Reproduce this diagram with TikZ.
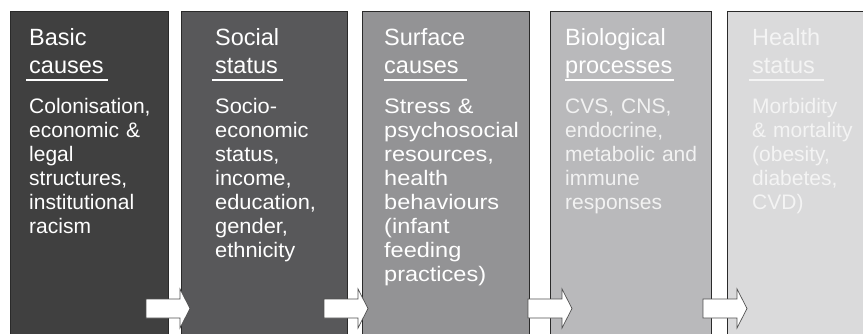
\documentclass[tikz,border=0pt]{standalone}
\usepackage{fontspec}
\setmainfont{Liberation Sans}
\newfontfamily\widerA[FakeStretch=1.04]{Liberation Sans}
\newfontfamily\widerB[FakeStretch=1.12]{Liberation Sans}
\definecolor{fillA}{HTML}{404040}
\definecolor{fillB}{HTML}{58585A}
\definecolor{fillC}{HTML}{939395}
\definecolor{fillD}{HTML}{B9B9BB}
\definecolor{fillE}{HTML}{DADADB}
\definecolor{edgecol}{HTML}{2A2A2A}
\definecolor{arrowedge}{HTML}{505050}
\definecolor{txtD}{HTML}{F2F2F2}
\definecolor{txtE}{HTML}{F4F4F4}
\begin{document}
\begin{tikzpicture}[x=1pt,y=-1pt,
  colbox/.style={draw=edgecol, line width=0.8pt, anchor=north west, inner sep=0pt, minimum height=326pt},
  titletxt/.style={anchor=base west, inner sep=0pt, text width=140pt, align=left,
    font=\fontsize{23.5}{28}\selectfont, text=white},
  bodytxt/.style={anchor=base west, inner sep=0pt, text width=150pt, align=left,
    font=\fontsize{21}{24}\selectfont, text=white},
  uline/.style={draw=white, line width=1.3pt},
  blockarrow/.style={draw=arrowedge, fill=white, line width=0.7pt, line join=miter}
]
\useasboundingbox (0,0) rectangle (863,333);
\fill[white] (0,0) rectangle (863,333);

% columns
\node[colbox, fill=fillA, minimum width=158pt] (c1) at (10,11) {};
\node[colbox, fill=fillB, minimum width=166pt] (c2) at (181,11) {};
\node[colbox, fill=fillC, minimum width=167pt] (c3) at (362,11) {};
\node[colbox, fill=fillD, minimum width=161pt] (c4) at (550,11) {};
\node[colbox, fill=fillE, minimum width=145pt] (c5) at (727,11) {};

% titles
\node[titletxt] (t1) at (29,45) {Basic\\causes};
\node[titletxt] (t2) at (215,45) {Social\\status};
\node[titletxt] (t3) at (384,45) {Surface\\causes};
\node[titletxt] (t4) at (565,45) {Biological\\processes};
\node[titletxt, text=txtE] (t5) at (752,45) {Health\\status};

% underlines
\draw[uline] (26,80) -- (108,80);
\draw[uline] (212,80) -- (283,80);
\draw[uline] (384,80) -- (467,80);
\draw[uline] (565,80) -- (674,80);
\draw[uline, draw=txtE] (749,80) -- (824,80);

% bodies
\node[bodytxt] (b1) at (29,113) {Colonisation,\\economic \&\\legal\\structures,\\institutional\\racism};
\node[bodytxt, font=\fontsize{21}{24}\widerA] (b2) at (215,113) {Socio-\\economic\\status,\\income,\\education,\\gender,\\ethnicity};
\node[bodytxt, font=\fontsize{21}{24}\widerB] (b3) at (384,113) {Stress \&\\psychosocial\\resources,\\health\\behaviours\\(infant\\feeding\\practices)};
\node[bodytxt, text=txtD] (b4) at (565,113) {CVS, CNS,\\endocrine,\\metabolic and\\immune\\responses};
\node[bodytxt, text=txtE] (b5) at (752,113) {Morbidity\\\& mortality\\(obesity,\\diabetes,\\CVD)};

% block arrows between columns
\foreach \s/\n in {146/1, 324/2, 528/3, 703/4}{
  \draw[blockarrow] (\s,299) -- ++(34,0) -- ++(0,-10) -- ++(10,19.5) -- ++(-10,19.5) -- ++(0,-10) -- ++(-34,0) -- cycle;
}
\end{tikzpicture}
\end{document}
